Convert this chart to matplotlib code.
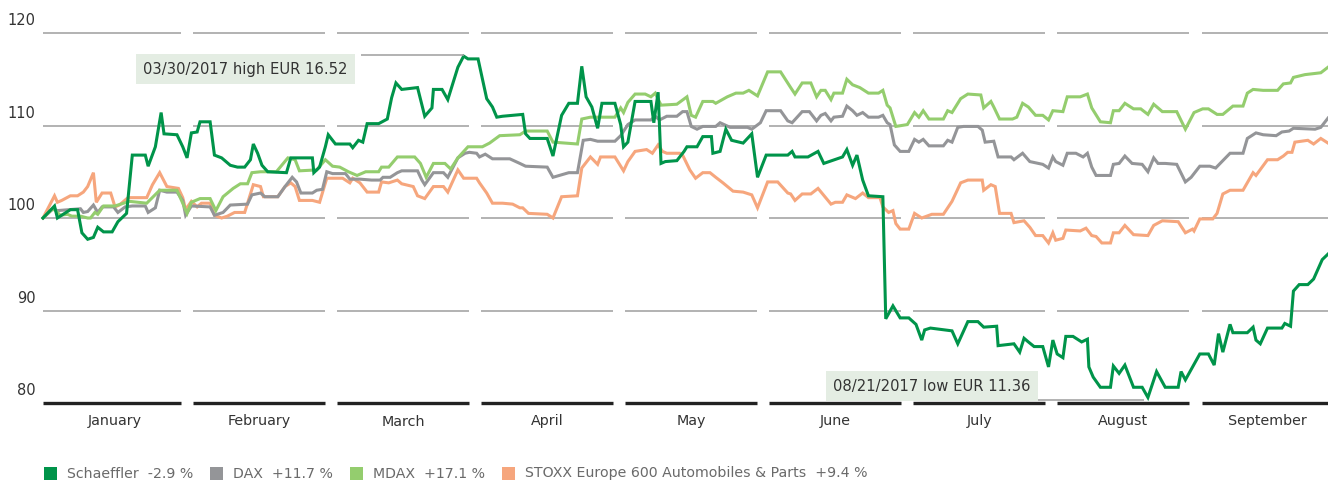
import numpy as np
import matplotlib.pyplot as plt
from matplotlib.patches import Rectangle

# x values are months since 1 January 2017 (each month drawn with equal width)
months = ["January", "February", "March", "April", "May", "June",
          "July", "August", "September"]
y_ticks = [80, 90, 100, 110, 120]

names = ["Schaeffler", "DAX", "MDAX", "STOXX Europe 600 Automobiles & Parts"]
changes = ["-2.9", "+11.7", "+17.1", "+9.4"]
colors = ["#00944a", "#949598", "#94cd6e", "#f6a67d"]

high_label = "03/30/2017 high EUR 16.52"
low_label = "08/21/2017 low EUR 11.36"

sch_t = [0.00, 0.08, 0.10, 0.19, 0.24, 0.27, 0.31, 0.35, 0.38, 0.42, 0.48, 0.52, 0.58, 0.62,
         0.71, 0.73, 0.78, 0.82, 0.84, 0.93, 0.97, 1.00, 1.03, 1.07, 1.09, 1.16, 1.19, 1.24,
         1.30, 1.35, 1.40, 1.44, 1.46, 1.49, 1.52, 1.56, 1.69, 1.72, 1.87, 1.88, 1.92, 1.96,
         1.98, 2.03, 2.13, 2.15, 2.19, 2.22, 2.25, 2.33, 2.39, 2.42, 2.45, 2.49, 2.60, 2.65,
         2.70, 2.71, 2.77, 2.81, 2.88, 2.92, 2.95, 3.02, 3.08, 3.12, 3.15, 3.19, 3.33, 3.35,
         3.38, 3.50, 3.54, 3.60, 3.65, 3.71, 3.74, 3.77, 3.81, 3.85, 3.88, 3.97, 4.01, 4.03,
         4.06, 4.11, 4.22, 4.24, 4.27, 4.29, 4.32, 4.40, 4.45, 4.47, 4.54, 4.58, 4.64, 4.65,
         4.70, 4.74, 4.78, 4.86, 4.92, 4.96, 5.02, 5.17, 5.20, 5.22, 5.31, 5.38, 5.42, 5.55,
         5.58, 5.62, 5.65, 5.69, 5.73, 5.83, 5.85, 5.90, 5.95, 6.01, 6.06, 6.10, 6.12, 6.16,
         6.31, 6.35, 6.42, 6.49, 6.53, 6.62, 6.63, 6.74, 6.78, 6.81, 6.84, 6.88, 6.94, 6.98,
         7.01, 7.04, 7.08, 7.10, 7.15, 7.21, 7.25, 7.26, 7.29, 7.34, 7.41, 7.43, 7.47, 7.51,
         7.57, 7.63, 7.67, 7.73, 7.79, 7.88, 7.90, 7.93, 8.03, 8.09, 8.13, 8.16, 8.19, 8.24,
         8.26, 8.36, 8.40, 8.42, 8.45, 8.50, 8.60, 8.62, 8.66, 8.68, 8.72, 8.78, 8.82, 8.88,
         8.92]
sch_v = [100.0, 101.3, 100.0, 100.9, 100.9, 98.4, 97.7, 97.9, 99.0, 98.5, 98.5, 99.6, 100.5, 106.8,
         106.8, 105.6, 107.7, 111.4, 109.1, 109.0, 107.7, 106.5, 109.2, 109.3, 110.4, 110.4, 106.8, 106.5,
         105.7, 105.5, 105.5, 106.3, 108.0, 107.0, 105.7, 105.0, 104.9, 106.5, 106.5, 104.9, 105.5, 107.7,
         109.0, 108.0, 108.0, 107.6, 108.4, 108.2, 110.2, 110.2, 110.7, 113.0, 114.6, 113.9, 114.1, 111.0,
         111.9, 113.9, 113.9, 112.8, 116.3, 117.5, 117.2, 117.2, 112.9, 112.0, 110.9, 111.0, 111.2, 109.1,
         108.6, 108.6, 106.7, 111.1, 112.4, 112.4, 116.4, 113.1, 112.0, 109.7, 112.4, 112.4, 110.1, 107.7,
         108.2, 112.6, 112.6, 110.3, 113.6, 105.9, 106.1, 106.2, 107.2, 107.7, 107.7, 108.8, 108.8, 107.0,
         107.2, 109.6, 108.4, 108.1, 109.1, 104.4, 106.8, 106.8, 107.2, 106.6, 106.6, 107.2, 105.9, 106.6,
         107.4, 105.7, 106.8, 104.1, 102.4, 102.3, 89.1, 90.5, 89.2, 89.2, 88.5, 86.8, 87.9, 88.1,
         87.8, 86.4, 88.8, 88.8, 88.2, 88.3, 86.2, 86.4, 85.5, 87.0, 86.6, 86.1, 86.1, 83.9,
         86.8, 85.3, 84.9, 87.2, 87.2, 86.6, 86.9, 83.9, 82.8, 81.7, 81.7, 84.0, 83.2, 84.1,
         81.7, 81.7, 80.6, 83.4, 81.7, 81.7, 83.4, 82.5, 85.3, 85.3, 84.1, 87.5, 85.5, 88.5,
         87.6, 87.6, 88.2, 86.8, 86.4, 88.1, 88.1, 88.6, 88.3, 92.1, 92.8, 92.8, 93.4, 95.5,
         96.1]

dax_t = [0.00, 0.07, 0.10, 0.26, 0.28, 0.31, 0.35, 0.38, 0.41, 0.49, 0.52, 0.57, 0.62, 0.71,
         0.73, 0.78, 0.81, 0.86, 0.93, 0.97, 0.99, 1.03, 1.16, 1.19, 1.25, 1.30, 1.42, 1.45,
         1.51, 1.54, 1.63, 1.68, 1.73, 1.76, 1.79, 1.87, 1.90, 1.94, 1.97, 2.01, 2.10, 2.13,
         2.20, 2.28, 2.34, 2.36, 2.41, 2.46, 2.49, 2.60, 2.63, 2.65, 2.71, 2.78, 2.81, 2.88,
         2.93, 2.96, 3.01, 3.03, 3.07, 3.12, 3.24, 3.31, 3.35, 3.50, 3.54, 3.65, 3.71, 3.75,
         3.80, 3.85, 3.97, 4.01, 4.06, 4.11, 4.22, 4.25, 4.28, 4.33, 4.40, 4.44, 4.47, 4.50,
         4.54, 4.58, 4.67, 4.70, 4.77, 4.89, 4.92, 4.98, 5.02, 5.12, 5.17, 5.20, 5.27, 5.32,
         5.37, 5.40, 5.43, 5.47, 5.49, 5.55, 5.58, 5.62, 5.65, 5.69, 5.73, 5.80, 5.83, 5.86,
         5.88, 5.91, 5.95, 6.01, 6.05, 6.08, 6.11, 6.15, 6.25, 6.28, 6.31, 6.35, 6.39, 6.49,
         6.52, 6.54, 6.60, 6.63, 6.72, 6.74, 6.80, 6.85, 6.94, 6.98, 7.01, 7.03, 7.08, 7.11,
         7.17, 7.22, 7.25, 7.28, 7.31, 7.41, 7.43, 7.47, 7.51, 7.56, 7.63, 7.67, 7.71, 7.74,
         7.79, 7.87, 7.93, 7.97, 8.03, 8.10, 8.14, 8.24, 8.33, 8.36, 8.42, 8.47, 8.56, 8.60,
         8.65, 8.68, 8.83, 8.87, 8.92]
dax_v = [100.0, 101.0, 100.8, 101.0, 100.6, 100.7, 101.4, 100.6, 101.2, 101.2, 100.6, 101.2, 101.3, 101.3,
         100.6, 101.1, 103.0, 102.8, 102.8, 101.9, 100.3, 101.3, 101.2, 100.3, 100.6, 101.4, 101.5, 102.5,
         102.7, 102.3, 102.3, 103.4, 104.4, 103.9, 102.7, 102.7, 103.0, 103.1, 105.0, 104.8, 104.8, 104.2,
         104.2, 104.1, 104.1, 104.4, 104.4, 104.9, 105.1, 105.1, 104.1, 103.6, 104.9, 104.9, 104.4, 106.5,
         107.0, 107.1, 107.0, 106.6, 106.9, 106.4, 106.4, 105.9, 105.6, 105.5, 104.4, 104.9, 104.9, 108.4,
         108.5, 108.3, 108.3, 108.9, 110.1, 110.6, 110.6, 111.0, 110.6, 111.0, 111.0, 111.5, 111.5, 109.9,
         109.6, 109.9, 109.9, 110.3, 109.8, 109.8, 109.6, 110.3, 111.6, 111.6, 110.5, 110.3, 111.5, 111.5,
         110.5, 111.1, 111.3, 110.5, 110.9, 111.0, 112.1, 111.6, 111.1, 111.4, 110.9, 110.9, 111.1, 110.3,
         110.1, 107.9, 107.2, 107.2, 108.5, 108.2, 108.5, 107.8, 107.8, 108.4, 108.2, 109.8, 109.9, 109.9,
         109.5, 108.2, 108.3, 106.6, 106.6, 106.3, 107.0, 106.1, 105.8, 105.4, 106.6, 106.1, 105.7, 107.0,
         107.0, 106.6, 107.0, 105.5, 104.6, 104.6, 105.8, 105.9, 106.7, 105.9, 105.8, 105.0, 106.5, 105.9,
         105.9, 105.8, 103.9, 104.4, 105.6, 105.6, 105.4, 107.0, 107.0, 108.6, 109.2, 109.0, 108.9, 109.3,
         109.4, 109.7, 109.6, 109.8, 110.8]

mdax_t = [0.00, 0.06, 0.08, 0.12, 0.17, 0.20, 0.26, 0.31, 0.33, 0.36, 0.38, 0.42, 0.50, 0.60,
          0.72, 0.81, 0.93, 0.97, 1.00, 1.03, 1.09, 1.16, 1.20, 1.25, 1.32, 1.37, 1.42, 1.45,
          1.51, 1.62, 1.70, 1.75, 1.78, 1.90, 1.96, 2.01, 2.06, 2.12, 2.18, 2.24, 2.33, 2.35,
          2.40, 2.46, 2.58, 2.62, 2.66, 2.71, 2.79, 2.83, 2.88, 2.95, 3.05, 3.10, 3.17, 3.31,
          3.35, 3.50, 3.54, 3.71, 3.74, 3.80, 3.97, 4.01, 4.03, 4.06, 4.11, 4.18, 4.22, 4.25,
          4.29, 4.40, 4.47, 4.50, 4.53, 4.58, 4.65, 4.67, 4.75, 4.81, 4.86, 4.90, 4.96, 5.03,
          5.12, 5.19, 5.22, 5.27, 5.33, 5.37, 5.40, 5.43, 5.47, 5.49, 5.55, 5.58, 5.62, 5.67,
          5.73, 5.80, 5.83, 5.86, 5.88, 5.92, 6.00, 6.05, 6.08, 6.11, 6.15, 6.25, 6.28, 6.31,
          6.37, 6.42, 6.51, 6.53, 6.58, 6.60, 6.64, 6.73, 6.76, 6.80, 6.84, 6.89, 6.94, 6.98,
          7.01, 7.08, 7.11, 7.20, 7.25, 7.28, 7.34, 7.41, 7.43, 7.47, 7.51, 7.57, 7.62, 7.67,
          7.71, 7.77, 7.87, 7.93, 7.99, 8.05, 8.09, 8.15, 8.19, 8.26, 8.33, 8.36, 8.40, 8.47,
          8.57, 8.61, 8.66, 8.68, 8.76, 8.87, 8.92]
mdax_v = [100.0, 100.9, 100.9, 100.3, 100.4, 100.2, 100.2, 100.0, 100.0, 100.6, 100.4, 101.3, 101.3, 101.8,
          101.6, 103.0, 103.0, 101.6, 100.5, 101.7, 102.1, 102.1, 100.8, 102.3, 103.2, 103.7, 103.7, 104.9,
          105.0, 105.0, 106.5, 106.3, 105.1, 105.2, 106.3, 105.6, 105.5, 105.0, 104.6, 105.0, 105.0, 105.5,
          105.5, 106.6, 106.6, 105.9, 104.4, 105.9, 105.9, 105.3, 106.5, 107.7, 107.7, 108.1, 108.9, 109.0,
          109.4, 109.4, 108.2, 108.0, 110.7, 110.9, 110.9, 111.9, 111.4, 112.5, 113.4, 113.4, 113.1, 113.5,
          112.2, 112.3, 113.1, 111.1, 110.9, 112.6, 112.6, 112.4, 113.1, 113.5, 113.5, 113.8, 113.2, 115.8,
          115.8, 114.1, 113.4, 114.6, 114.6, 113.1, 113.8, 113.8, 112.8, 113.5, 113.5, 115.0, 114.4, 114.1,
          113.5, 113.5, 113.8, 112.2, 111.9, 109.9, 110.1, 111.4, 110.9, 111.6, 110.7, 110.7, 111.6, 111.4,
          112.9, 113.4, 113.3, 111.9, 112.6, 112.0, 110.7, 110.7, 110.9, 112.4, 112.0, 111.1, 111.1, 110.6,
          111.6, 111.5, 113.1, 113.1, 113.4, 111.9, 110.4, 110.3, 111.6, 111.6, 112.4, 111.8, 111.8, 111.2,
          112.3, 111.5, 111.5, 109.6, 111.4, 111.8, 111.8, 111.2, 111.2, 112.1, 112.1, 113.5, 113.9, 113.8,
          113.8, 114.5, 114.6, 115.2, 115.5, 115.7, 116.3]

stoxx_t = [0.00, 0.08, 0.10, 0.13, 0.19, 0.24, 0.28, 0.31, 0.35, 0.37, 0.41, 0.47, 0.50, 0.53,
           0.59, 0.72, 0.76, 0.81, 0.86, 0.94, 0.97, 0.99, 1.03, 1.07, 1.10, 1.16, 1.19, 1.24,
           1.28, 1.33, 1.40, 1.46, 1.51, 1.53, 1.63, 1.68, 1.72, 1.75, 1.78, 1.87, 1.92, 1.97,
           2.08, 2.13, 2.15, 2.20, 2.25, 2.33, 2.35, 2.40, 2.46, 2.49, 2.57, 2.60, 2.65, 2.71,
           2.78, 2.81, 2.88, 2.92, 3.01, 3.03, 3.08, 3.12, 3.19, 3.26, 3.31, 3.33, 3.37, 3.50,
           3.54, 3.60, 3.71, 3.74, 3.80, 3.85, 3.87, 3.97, 3.99, 4.03, 4.06, 4.11, 4.19, 4.23,
           4.27, 4.30, 4.33, 4.42, 4.44, 4.49, 4.53, 4.58, 4.63, 4.67, 4.72, 4.79, 4.86, 4.92,
           4.96, 5.03, 5.10, 5.17, 5.19, 5.22, 5.27, 5.33, 5.38, 5.47, 5.50, 5.55, 5.58, 5.64,
           5.69, 5.73, 5.81, 5.83, 5.87, 5.90, 5.92, 5.95, 6.01, 6.05, 6.10, 6.17, 6.25, 6.31,
           6.37, 6.42, 6.52, 6.53, 6.58, 6.61, 6.64, 6.72, 6.74, 6.81, 6.85, 6.89, 6.94, 6.98,
           7.01, 7.03, 7.08, 7.10, 7.20, 7.24, 7.28, 7.31, 7.35, 7.41, 7.43, 7.47, 7.51, 7.57,
           7.67, 7.71, 7.77, 7.88, 7.93, 7.98, 7.99, 8.03, 8.12, 8.15, 8.19, 8.24, 8.33, 8.40,
           8.42, 8.50, 8.57, 8.61, 8.64, 8.67, 8.69, 8.78, 8.82, 8.87, 8.92]
stoxx_v = [100.0, 102.4, 101.7, 101.9, 102.4, 102.4, 102.8, 103.4, 104.9, 101.7, 102.7, 102.7, 101.2, 101.4,
           102.2, 102.2, 103.6, 104.9, 103.4, 103.2, 102.2, 100.9, 101.8, 101.2, 101.6, 101.6, 100.3, 100.0,
           100.2, 100.6, 100.6, 103.6, 103.4, 102.3, 102.3, 103.4, 103.8, 103.4, 101.9, 101.9, 101.7, 104.3,
           104.3, 103.8, 104.3, 103.8, 102.8, 102.8, 103.9, 103.8, 104.1, 103.7, 103.4, 102.4, 102.1, 103.4,
           103.4, 102.8, 105.2, 104.3, 104.3, 103.8, 102.7, 101.6, 101.6, 101.5, 101.1, 101.1, 100.5, 100.4,
           100.0, 102.3, 102.4, 105.4, 106.6, 105.8, 106.6, 106.6, 106.1, 105.1, 106.1, 107.2, 107.4, 107.0,
           107.9, 107.2, 107.0, 107.0, 106.8, 105.2, 104.3, 104.9, 104.9, 104.4, 103.8, 102.9, 102.8, 102.5,
           101.1, 103.9, 103.9, 102.7, 102.6, 101.9, 102.6, 102.6, 103.2, 101.5, 101.7, 101.7, 102.5, 102.1,
           102.7, 102.2, 102.2, 101.2, 100.6, 100.8, 99.4, 98.8, 98.8, 100.5, 100.0, 100.4, 100.4, 101.8,
           103.8, 104.1, 104.1, 103.0, 103.6, 103.4, 100.5, 100.5, 99.5, 99.7, 99.0, 98.1, 98.1, 97.3,
           98.4, 97.6, 97.8, 98.7, 98.6, 98.9, 98.1, 98.0, 97.3, 97.3, 98.4, 98.4, 99.2, 98.2,
           98.1, 99.2, 99.7, 99.6, 98.4, 98.8, 98.6, 99.9, 99.9, 100.5, 102.6, 103.0, 103.0, 104.9,
           104.6, 106.3, 106.3, 106.7, 107.1, 107.1, 108.2, 108.4, 108.0, 108.6, 108.1]

W, H = 1328, 482
fig = plt.figure(figsize=(W / 100, H / 100), dpi=100)
ax = fig.add_axes([43 / W, 79 / H, 1285 / W, 370 / H])
ax.set_xlim(0, 8.92)
ax.set_ylim(80, 120)
ax.axis("off")

# month-segmented grid lines
gap = 0.042
for level in y_ticks:
    for i in range(len(months)):
        x0 = 0 if i == 0 else i + gap
        x1 = i + 1 - gap
        if level == 80:
            ax.hlines(level, x0, x1, color="#222222", lw=2.4, clip_on=False)
        else:
            ax.hlines(level, x0, x1, color="#9e9e9e", lw=1.1, clip_on=False)
    ax.text(-0.05, level + 1.35, str(level), ha="right", va="center",
            fontsize=10.5, color="#333333")

for i, m in enumerate(months):
    ax.text(i + 0.5, 78.0, m, ha="center", va="center", fontsize=10.3, color="#333333")

series = [(stoxx_t, stoxx_v), (dax_t, dax_v), (mdax_t, mdax_v), (sch_t, sch_v)]
series_colors = [colors[3], colors[1], colors[2], colors[0]]
for (t, v), c in zip(series, series_colors):
    ax.plot(t, v, color=c, lw=2.2, solid_joinstyle="miter", clip_on=False)

box_fc = "#e4ede3"
# high / low annotations
hi = int(np.argmax(sch_v))
lo = int(np.argmin(sch_v))
hi_y = sch_v[hi] + 0.1
lo_y = sch_v[lo] - 0.3
ax.hlines(hi_y, sch_t[hi] - 0.71, sch_t[hi], color="#9e9e9e", lw=1.1)
ax.hlines(lo_y, sch_t[lo] - 0.76, sch_t[lo] - 0.03, color="#9e9e9e", lw=1.1)
ax.text(0.695, hi_y - 1.5, high_label, ha="left", va="center", fontsize=10.6, color="#333333",
        bbox=dict(boxstyle="square,pad=0.5", fc=box_fc, ec="none"))
ax.text(5.485, lo_y + 1.5, low_label, ha="left", va="center", fontsize=10.6, color="#333333",
        bbox=dict(boxstyle="square,pad=0.5", fc=box_fc, ec="none"))

# legend
renderer = fig.canvas.get_renderer()
x = 44
for name, ch, c in zip(names, changes, colors):
    fig.add_artist(Rectangle((x / W, 2 / H), 13 / W, 13 / H, transform=fig.transFigure,
                             fc=c, ec="none"))
    txt = fig.text((x + 23) / W, 8.5 / H, f"{name}  {ch} %", ha="left", va="center",
                   fontsize=10.2, color="#6a6a6a")
    bb = txt.get_window_extent(renderer)
    x = bb.x1 + 17

fig.savefig("out.png", dpi=100)
